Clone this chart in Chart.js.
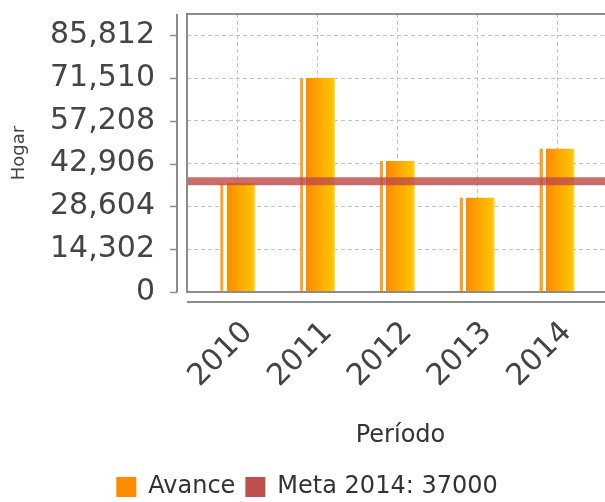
<!DOCTYPE html>
<html>
<head>
<meta charset="utf-8">
<script src="https://cdn.jsdelivr.net/npm/chart.js@4"></script>
<style>
  html, body { margin: 0; padding: 0; overflow: hidden; background: #fff; }
  #wrap { width: 626px; height: 509px; }
</style>
</head>
<body>
<div id="wrap"><canvas id="avanceChart"></canvas></div>
<script>
const periodos = ['2010', '2011', '2012', '2013', '2014'];
const avance = [36400, 71510, 43800, 31500, 47900];
const meta2014 = 37000;
const yTicks = [0, 14302, 28604, 42906, 57208, 71510, 85812];
const yMax = 92900;
// category margins, in category units (right side runs past the picture)
const xMin = -0.6375;
const xMax = 4.7135;

const font = 'DejaVu Sans';
const barShare = 0.4375;

// bar fill: thin stripe, white gap, then orange to yellow
function barFill(ctx) {
    const chart = ctx.chart;
    const xs = chart.scales.x;
    if (!xs || ctx.dataIndex === undefined) return '#ff8c00';
    const step = xs.getPixelForValue(1) - xs.getPixelForValue(0);
    const w = step * barShare;
    const cx = xs.getPixelForValue(ctx.dataIndex);
    if (!isFinite(cx) || !isFinite(w) || w <= 0) return '#ff8c00';
    const g = chart.ctx.createLinearGradient(cx - w / 2, 0, cx + w / 2, 0);
    g.addColorStop(0, '#ff9a1f');
    g.addColorStop(0.085, '#ffa62e');
    g.addColorStop(0.09, '#ffffff');
    g.addColorStop(0.175, '#ffffff');
    g.addColorStop(0.18, '#ff8a00');
    g.addColorStop(0.93, '#ffc400');
    g.addColorStop(1, '#ffdc70');
    return g;
}

const legendColors = ['#ff8c00', '#c0504d'];

// plot frame (right side falls outside the picture) plus the offset axis lines
const frame = {
    id: 'frame',
    afterDraw(chart) {
        const {ctx, chartArea: a, scales: {y}} = chart;
        ctx.save();
        ctx.strokeStyle = '#8c8c8c';
        ctx.lineWidth = 2;
        ctx.beginPath();
        ctx.moveTo(a.right, a.top);
        ctx.lineTo(a.left, a.top);
        ctx.lineTo(a.left, a.bottom);
        ctx.lineTo(a.right, a.bottom);
        const ax = a.left - 10;
        ctx.moveTo(ax, a.top);
        ctx.lineTo(ax, a.bottom);
        ctx.moveTo(a.left, a.bottom + 10);
        ctx.lineTo(a.right, a.bottom + 10);
        ctx.stroke();
        ctx.lineWidth = 1.5;
        ctx.beginPath();
        y.ticks.forEach(t => {
            const py = Math.round(y.getPixelForValue(t.value)) + 0.5;
            ctx.moveTo(ax - 7, py);
            ctx.lineTo(ax, py);
        });
        ctx.stroke();
        ctx.restore();
    }
};

const data = {
    datasets: [{
        type: 'bar',
        label: 'Avance',
        data: periodos.map((p, i) => ({x: i, y: avance[i]})),
        backgroundColor: barFill,
        borderWidth: 0,
        barPercentage: barShare,
        categoryPercentage: 1,
        order: 2
    }, {
        type: 'line',
        label: 'Meta 2014: ' + meta2014,
        data: [{x: xMin, y: meta2014}, {x: xMax, y: meta2014}],
        borderColor: 'rgba(190, 74, 70, 0.8)',
        backgroundColor: '#c0504d',
        borderWidth: 8,
        borderCapStyle: 'butt',
        pointRadius: 0,
        order: 1
    }]
};

const options = {
    responsive: true,
    maintainAspectRatio: false,
    animation: false,
    layout: {
        autoPadding: false,
        padding: {top: 14, right: 12, bottom: 0, left: 0}
    },
    scales: {
        x: {
            type: 'linear',
            min: xMin,
            max: xMax,
            offset: false,
            afterBuildTicks: s => { s.ticks = periodos.map((p, i) => ({value: i})); },
            afterFit: s => { s.height = 173; s.paddingLeft = 0; s.paddingRight = 0; },
            grid: {color: '#c4c4c4', lineWidth: 1, drawTicks: false, offset: false},
            border: {display: false, dash: [4, 3]},
            ticks: {
                autoSkip: false,
                minRotation: 45,
                maxRotation: 45,
                padding: 23,
                labelOffset: 10,
                color: '#444',
                font: {family: font, size: 30},
                callback: v => periodos[v]
            },
            title: {
                display: true,
                text: 'Período',
                color: '#333',
                font: {family: font, size: 24},
                padding: {top: 0, bottom: 15}
            }
        },
        y: {
            min: 0,
            max: yMax,
            afterBuildTicks: s => { s.ticks = yTicks.map(v => ({value: v})); },
            afterFit: s => { s.width = 187; s.paddingTop = 0; s.paddingBottom = 0; },
            grid: {color: '#c4c4c4', lineWidth: 1, drawTicks: false},
            border: {display: false, dash: [4, 3]},
            ticks: {
                padding: 32,
                color: '#444',
                font: {family: font, size: 30},
                callback: v => v.toLocaleString('en-US')
            },
            title: {
                display: true,
                text: 'Hogar',
                color: '#444',
                font: {family: font, size: 18},
                padding: {top: 9, bottom: 0}
            }
        }
    },
    plugins: {
        tooltip: {enabled: false},
        legend: {
            display: true,
            position: 'bottom',
            labels: {
                boxWidth: 20,
                boxHeight: 20,
                padding: 10,
                color: '#333',
                font: {family: font, size: 24},
                sort: (a, b) => a.datasetIndex - b.datasetIndex,
                generateLabels(chart) {
                    const items = Chart.defaults.plugins.legend.labels.generateLabels(chart);
                    items.forEach(it => {
                        it.fillStyle = legendColors[it.datasetIndex];
                        it.strokeStyle = legendColors[it.datasetIndex];
                        it.lineWidth = 0;
                    });
                    return items;
                }
            }
        }
    }
};

const avanceChart = new Chart(document.getElementById('avanceChart'), {
    type: 'bar',
    data: data,
    options: options,
    plugins: [frame]
});
</script>
</body>
</html>
